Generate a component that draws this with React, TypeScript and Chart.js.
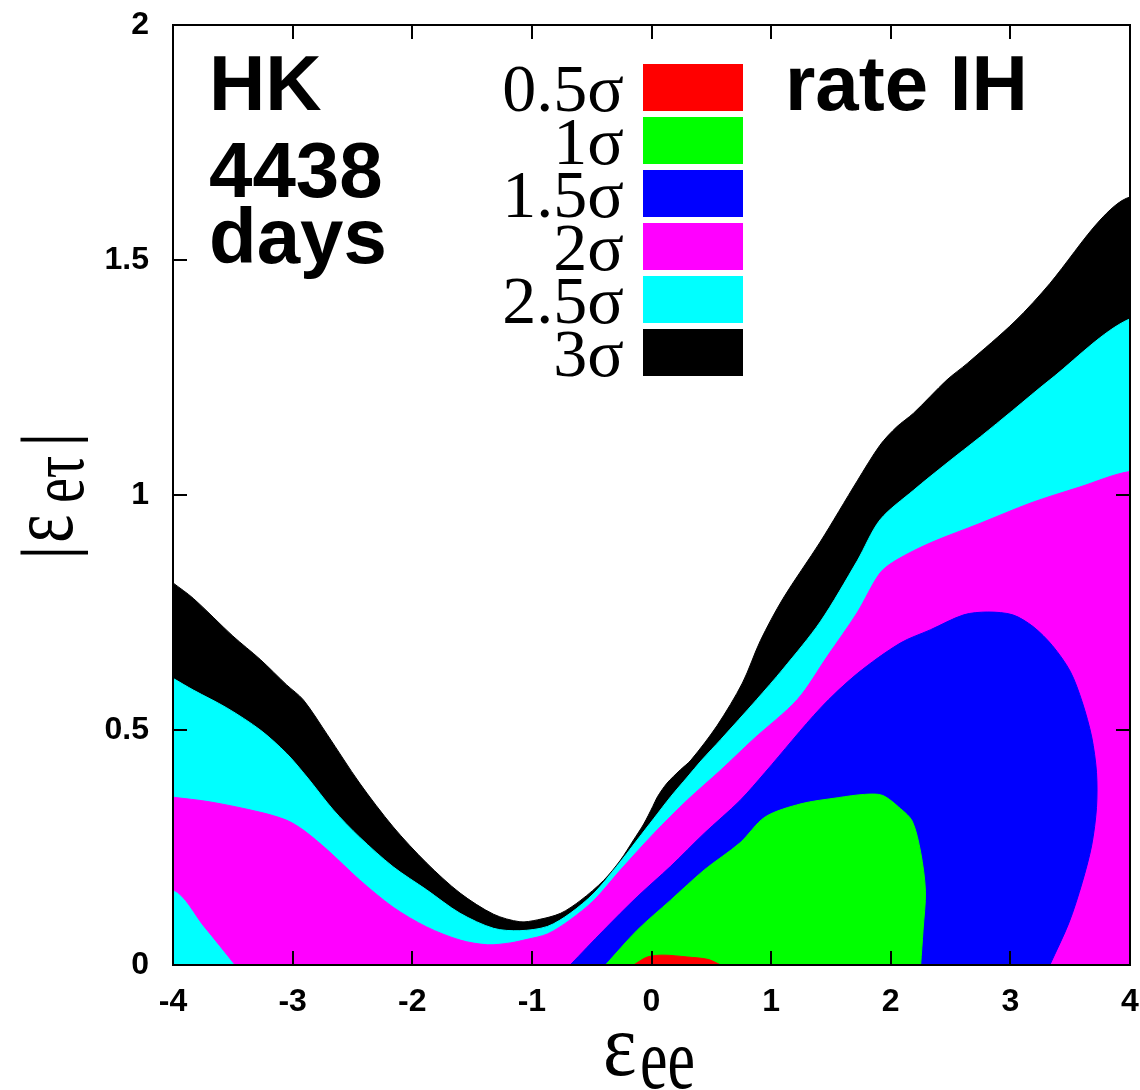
import React, { useEffect, useRef } from 'react';
import { Chart, registerables } from 'chart.js';

Chart.register(...registerables);

type Pt = [number, number];

// ---- axis ticks ----
const xTickValues = [-4, -3, -2, -1, 0, 1, 2, 3, 4];
const yTickValues = [0, 0.5, 1, 1.5, 2];

// ---- legend ----
const sigmaLabels = ['0.5σ', '1σ', '1.5σ', '2σ', '2.5σ', '3σ'];
const sigmaColors = ['#ff0000', '#00ff00', '#0000ff', '#ff00ff', '#00ffff', '#000000'];

// ---- annotation text ----
const infoLines = ['HK', '4438', 'days'];
const rateLabel = 'rate IH';

// ---- contour boundaries (x = eps_ee, y = |eps_etau|) ----
const sigma3Upper: Pt[] = [
  [-4, 0.813], [-3.83, 0.78], [-3.5, 0.7], [-3.27, 0.65], [-3.05, 0.596], [-2.91, 0.564],
  [-2.71, 0.49], [-2.44, 0.387], [-2.16, 0.294], [-1.88, 0.217], [-1.6, 0.153], [-1.32, 0.108],
  [-1.1, 0.092], [-0.955, 0.096], [-0.76, 0.11], [-0.59, 0.138], [-0.4, 0.18], [-0.26, 0.223],
  [-0.15, 0.266], [-0.065, 0.3], [0.01, 0.337], [0.05, 0.358], [0.13, 0.387], [0.24, 0.415],
  [0.33, 0.436], [0.55, 0.51], [0.76, 0.6], [0.91, 0.69], [1.1, 0.78], [1.41, 0.9], [1.72, 1.03],
  [1.91, 1.106], [2.05, 1.145], [2.19, 1.174], [2.47, 1.245], [2.64, 1.28], [3.04, 1.37],
  [3.33, 1.45], [3.75, 1.585], [4, 1.634],
];

const sigma25Upper: Pt[] = [
  [-4, 0.61], [-3.83, 0.585], [-3.55, 0.547], [-3.27, 0.5], [-3.05, 0.45], [-2.88, 0.4],
  [-2.66, 0.33], [-2.44, 0.272], [-2.16, 0.209], [-1.88, 0.16], [-1.6, 0.11], [-1.32, 0.078],
  [-1.1, 0.073], [-0.87, 0.082], [-0.68, 0.11], [-0.48, 0.153], [-0.29, 0.21], [-0.12, 0.266],
  [0.02, 0.312], [0.16, 0.358], [0.3, 0.4], [0.42, 0.436], [0.58, 0.48], [0.88, 0.565],
  [1.1, 0.63], [1.41, 0.73], [1.72, 0.86], [1.91, 0.947], [2.19, 1.01], [2.47, 1.068],
  [2.75, 1.124], [3.02, 1.18], [3.33, 1.245], [4, 1.375],
];

const sigma2Upper: Pt[] = [
  [-4, 0.357], [-3.69, 0.347], [-3.27, 0.325], [-3.05, 0.308], [-2.91, 0.287], [-2.71, 0.245],
  [-2.44, 0.181], [-2.16, 0.123], [-1.88, 0.081], [-1.6, 0.053], [-1.37, 0.043], [-1.18, 0.047],
  [-1.05, 0.054], [-0.87, 0.066], [-0.68, 0.096], [-0.48, 0.138], [-0.26, 0.202], [0.02, 0.28],
  [0.3, 0.351], [0.58, 0.415], [0.85, 0.48], [1.22, 0.565], [1.47, 0.657], [1.72, 0.75],
  [1.91, 0.834], [2.05, 0.862], [2.33, 0.898], [2.75, 0.94], [3.17, 0.983], [3.58, 1.017],
  [4, 1.05],
];

// lower-left corner that stays at the 2.5 sigma level
const sigma2CornerEdge: Pt[] = [[-4, 0.16], [-3.74, 0.082], [-3.48, 0]];

const sigma15Contour: Pt[] = [
  [-0.68, 0], [-0.4, 0.074], [-0.12, 0.145], [0.16, 0.21], [0.44, 0.28], [0.74, 0.35],
  [0.95, 0.41], [1.41, 0.546], [1.72, 0.62], [2.08, 0.685], [2.33, 0.713], [2.61, 0.745],
  [2.81, 0.751], [3.02, 0.745], [3.19, 0.72], [3.35, 0.68], [3.5, 0.625], [3.6, 0.56],
  [3.68, 0.485], [3.72, 0.41], [3.72, 0.335], [3.68, 0.255], [3.6, 0.175], [3.49, 0.09],
  [3.33, 0],
];

const sigma1Contour: Pt[] = [
  [-0.385, 0], [-0.12, 0.074], [0.16, 0.138], [0.44, 0.202], [0.74, 0.26], [0.95, 0.315],
  [1.25, 0.343], [1.56, 0.356], [1.78, 0.363], [1.93, 0.361], [2.08, 0.333], [2.18, 0.306],
  [2.25, 0.24], [2.29, 0.157], [2.27, 0.074], [2.25, 0],
];

const sigma05Contour: Pt[] = [
  [-0.15, 0], [-0.035, 0.017], [0.1, 0.021], [0.3, 0.017], [0.47, 0.012], [0.58, 0],
];

const toXY = (pts: Pt[]) => pts.map(([x, y]) => ({ x, y }));

// close an upper boundary through points lying outside the plot frame (clipped away)
const OUT = 4.5;
const closeBelow = (upper: Pt[]): Pt[] => {
  const first = upper[0];
  const last = upper[upper.length - 1];
  return [...upper, [OUT, last[1]], [OUT, -0.5], [-OUT, -0.5], [-OUT, first[1]]];
};

const decorPlugin = {
  id: 'decor',
  afterDatasetsDraw(chart: any) {
    const { ctx, chartArea: a, scales } = chart;
    ctx.save();
    // inner tick marks on all four sides
    ctx.strokeStyle = '#000';
    ctx.lineWidth = 2;
    const tl = 14;
    ctx.beginPath();
    for (const t of scales.x.ticks) {
      const px = Math.round(scales.x.getPixelForValue(t.value));
      if (px <= a.left + 2 || px >= a.right - 2) continue;
      ctx.moveTo(px, a.bottom);
      ctx.lineTo(px, a.bottom - tl);
      ctx.moveTo(px, a.top);
      ctx.lineTo(px, a.top + tl);
    }
    for (const t of scales.y.ticks) {
      const py = Math.round(scales.y.getPixelForValue(t.value));
      if (py <= a.top + 2 || py >= a.bottom - 2) continue;
      ctx.moveTo(a.left, py);
      ctx.lineTo(a.left + tl, py);
      ctx.moveTo(a.right, py);
      ctx.lineTo(a.right - tl, py);
    }
    ctx.stroke();
    ctx.strokeRect(a.left, a.top, a.right - a.left, a.bottom - a.top);

    // info text
    ctx.fillStyle = '#000';
    ctx.textAlign = 'left';
    ctx.textBaseline = 'alphabetic';
    ctx.font = 'bold 78px "Liberation Sans", Arial, sans-serif';
    const baselines = [110, 197, 263];
    infoLines.forEach((s, i) => ctx.fillText(s, 209, baselines[i]));
    ctx.fillText(rateLabel, 785, 110);

    // legend
    const ds = chart.data.datasets;
    ctx.font = '68px "Liberation Serif", "Times New Roman", serif';
    ds.forEach((d: any, i: number) => {
      const top = 64 + i * 53;
      ctx.fillStyle = d.backgroundColor;
      ctx.fillRect(643, top, 100, 47);
      ctx.fillStyle = '#000';
      ctx.textAlign = 'right';
      ctx.fillText(d.label, 624, top + 47);
    });

    // x axis title: eps_ee
    ctx.textAlign = 'left';
    ctx.save();
    ctx.translate(603, 1075);
    ctx.scale(1, 1.1);
    ctx.font = '80px "Liberation Serif", serif';
    ctx.fillText('ε', 0, 0);
    ctx.restore();
    ctx.save();
    ctx.translate(640, 1088);
    ctx.scale(1, 1.4);
    ctx.font = '62px "Liberation Serif", serif';
    ctx.fillText('ee', 0, 0);
    ctx.restore();

    // y axis title: |eps_etau|
    ctx.save();
    ctx.translate(72, 555);
    ctx.rotate(-Math.PI / 2);
    ctx.font = '74px "Liberation Serif", serif';
    ctx.fillText('|', -5, 0);
    ctx.save();
    ctx.translate(12, 0);
    ctx.scale(1, 1.35);
    ctx.font = '68px "Liberation Serif", serif';
    ctx.fillText('ε', 0, 0);
    ctx.restore();
    ctx.save();
    ctx.translate(52, 11);
    ctx.scale(1, 1.35);
    ctx.font = '56px "Liberation Serif", serif';
    ctx.fillText('eτ', 0, 0);
    ctx.restore();
    ctx.font = '74px "Liberation Serif", serif';
    ctx.fillText('|', 108, 0);
    ctx.restore();

    ctx.restore();
  },
};

export default function App() {
  const ref = useRef<HTMLCanvasElement | null>(null);
  useEffect(() => {
    if (!ref.current) return;
    const cornerRev = [...sigma2CornerEdge].reverse();
    const c0 = cornerRev[0];
    const c1 = cornerRev[1];
    // helper point on the continuation of the corner edge, below the frame
    const cornerLead: Pt = [c0[0] + 2 * (c0[0] - c1[0]), c0[1] + 2 * (c0[1] - c1[1])];
    const regions: Pt[][] = [
      sigma05Contour,
      sigma1Contour,
      sigma15Contour,
      [
        ...sigma2Upper,
        [OUT, sigma2Upper[sigma2Upper.length - 1][1]],
        [OUT, -0.5],
        cornerLead,
        ...cornerRev,
        [-OUT, cornerRev[cornerRev.length - 1][1]],
        [-OUT, sigma2Upper[0][1]],
      ],
      closeBelow(sigma25Upper),
      closeBelow(sigma3Upper),
    ];
    const datasets = regions.map((pts, i) => ({
      label: sigmaLabels[i],
      data: toXY(pts),
      showLine: true,
      fill: 'shape',
      backgroundColor: sigmaColors[i],
      borderColor: sigmaColors[i],
      borderWidth: 1,
      pointRadius: 0,
      pointHoverRadius: 0,
      tension: 0.3,
    }));
    const tickFont = { family: '"Liberation Sans", Arial, sans-serif', size: 32, weight: 'bold' as const };
    const chart = new Chart(ref.current, {
      type: 'scatter',
      data: { datasets: datasets as any },
      plugins: [decorPlugin],
      options: {
        animation: false,
        responsive: false,
        events: [],
        layout: { padding: { left: 0, top: 25, right: 10, bottom: 0 } },
        plugins: { legend: { display: false }, tooltip: { enabled: false } },
        scales: {
          x: {
            type: 'linear',
            min: -4,
            max: 4,
            afterBuildTicks: (s: any) => { s.ticks = xTickValues.map((v) => ({ value: v })); },
            afterFit: (s: any) => {
              s.height = 125;
              s.paddingLeft = 0; s.paddingRight = 0; s.paddingTop = 0; s.paddingBottom = 0;
            },
            grid: { display: false, drawTicks: false },
            border: { display: false },
            ticks: {
              color: '#000', font: tickFont, padding: 18, maxRotation: 0, autoSkip: false,
              callback: (v: any) => String(v),
            },
          },
          y: {
            type: 'linear',
            min: 0,
            max: 2,
            afterBuildTicks: (s: any) => { s.ticks = yTickValues.map((v) => ({ value: v })); },
            afterFit: (s: any) => {
              s.width = 173;
              s.paddingLeft = 0; s.paddingRight = 0; s.paddingTop = 0; s.paddingBottom = 0;
            },
            grid: { display: false, drawTicks: false },
            border: { display: false },
            ticks: {
              color: '#000', font: tickFont, padding: 24, autoSkip: false,
              callback: (v: any) => String(v),
            },
          },
        },
      },
    });
    return () => chart.destroy();
  }, []);
  return (
    <div style={{ position: 'absolute', left: 0, top: 0, width: 1140, height: 1090, background: '#fff' }}>
      <canvas ref={ref} width={1140} height={1090} />
    </div>
  );
}
